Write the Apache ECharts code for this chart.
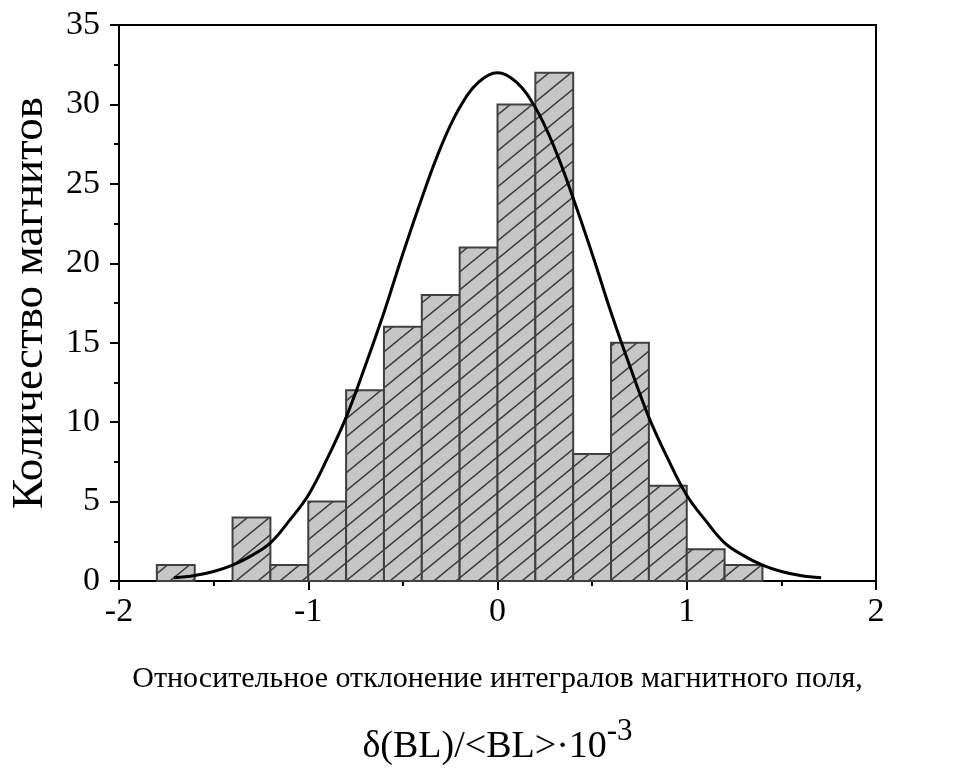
<!DOCTYPE html>
<html>
<head>
<meta charset="utf-8">
<script src="https://cdn.jsdelivr.net/npm/echarts@6/dist/echarts.min.js"></script>
<style>
    html, body { margin: 0; padding: 0; background: #fff; }
    #chart { width: 974px; height: 771px; }
</style>
</head>
<body>
<div id="chart"></div>
<script>
    // левые границы интервалов гистограммы (ширина 0.2)
    const binStart = [-1.8, -1.6, -1.4, -1.2, -1.0, -0.8, -0.6, -0.4, -0.2, 0.0, 0.2, 0.4, 0.6, 0.8, 1.0, 1.2];
    const binWidth = 0.2;
    const counts = [1, 0, 4, 1, 5, 12, 16, 18, 21, 30, 32, 8, 15, 6, 2, 1];

    // точки кривой (гауссова подгонка)
    const fitX = [-1.71, -1.6, -1.5, -1.4, -1.3, -1.2, -1.1, -1.0, -0.9, -0.8, -0.7, -0.6, -0.5, -0.4, -0.3, -0.2, -0.1,
        0.0, 0.1, 0.2, 0.3, 0.4, 0.5, 0.6, 0.7, 0.8, 0.9, 1.0, 1.1, 1.2, 1.3, 1.4, 1.5, 1.6, 1.71];
    const fitY = [0.2, 0.35, 0.6, 1.0, 1.6, 2.4, 3.8, 5.4, 7.7, 10.3, 13.5, 16.9, 20.6, 24.1, 27.3, 29.8, 31.4,
        32.0, 31.4, 29.8, 27.3, 24.1, 20.6, 16.9, 13.5, 10.3, 7.7, 5.4, 3.8, 2.4, 1.6, 1.0, 0.6, 0.35, 0.2];

    const xTicks = [-2, -1, 0, 1, 2];

    const font = 'Liberation Serif';

    // штриховка столбцов
    function hatchPattern() {
        const w = 22, h = 18;
        const c = document.createElement('canvas');
        c.width = w; c.height = h;
        const ctx = c.getContext('2d');
        ctx.fillStyle = '#c6c6c6';
        ctx.fillRect(0, 0, w, h);
        ctx.strokeStyle = '#3c3c3c';
        ctx.lineWidth = 1.5;
        ctx.beginPath();
        ctx.moveTo(-w, 2 * h); ctx.lineTo(2 * w, -h);
        ctx.moveTo(-2 * w, 2 * h); ctx.lineTo(w, -h);
        ctx.moveTo(0, 2 * h); ctx.lineTo(3 * w, -h);
        ctx.stroke();
        return c;
    }

    const barData = binStart
        .map((x0, i) => [x0, x0 + binWidth, counts[i]])
        .filter(d => d[2] > 0);

    const chart = echarts.init(document.getElementById('chart'));
    const pattern = { image: hatchPattern(), repeat: 'repeat' };

    const option = {
        animation: false,
        grid: {
            left: 119, right: 98, top: 25, bottom: 190,
            outerBoundsMode: 'none',
            containLabel: false,
            show: true, borderColor: '#000', borderWidth: 2, backgroundColor: 'transparent'
        },
        xAxis: {
            type: 'value',
            min: -2, max: 2, interval: 1,
            axisLine: { show: true, onZero: false, lineStyle: { color: '#000', width: 2 } },
            axisTick: { show: true, inside: false, length: 9, lineStyle: { color: '#000', width: 2 } },
            minorTick: { show: true, splitNumber: 2, length: 5, lineStyle: { color: '#000', width: 2 } },
            splitLine: { show: false },
            axisLabel: {
                margin: 14, color: '#000', fontFamily: font, fontSize: 34,
                formatter: v => xTicks.indexOf(v) >= 0 ? String(v) : ''
            },
            name: '{a|Относительное отклонение интегралов магнитного поля,}\n{b|δ(BL)/<BL>·10}{s|-3}',
            nameLocation: 'middle',
            nameGap: 69,
            nameTextStyle: {
                color: '#000', fontFamily: font,
                rich: {
                    a: { fontFamily: font, fontSize: 30, color: '#000', lineHeight: 58 },
                    b: { fontFamily: font, fontSize: 38, color: '#000', lineHeight: 58, verticalAlign: 'bottom' },
                    s: { fontFamily: font, fontSize: 31, color: '#000', lineHeight: 58, verticalAlign: 'bottom', padding: [0, 0, 19, 0] }
                }
            }
        },
        yAxis: {
            type: 'value',
            min: 0, max: 35, interval: 5,
            axisLine: { show: true, onZero: false, lineStyle: { color: '#000', width: 2 } },
            axisTick: { show: true, inside: false, length: 9, lineStyle: { color: '#000', width: 2 } },
            minorTick: { show: true, splitNumber: 2, length: 5, lineStyle: { color: '#000', width: 2 } },
            splitLine: { show: false },
            axisLabel: { margin: 19, color: '#000', fontFamily: font, fontSize: 34 },
            name: 'Количество магнитов',
            nameLocation: 'middle',
            nameGap: 66,
            nameRotate: 90,
            nameTextStyle: { color: '#000', fontFamily: font, fontSize: 45 }
        },
        series: [
            {
                type: 'custom',
                name: 'Гистограмма',
                data: barData,
                encode: { x: [0, 1], y: 2 },
                renderItem: function (params, api) {
                    const p0 = api.coord([api.value(0), api.value(2)]);
                    const p1 = api.coord([api.value(1), 0]);
                    return {
                        type: 'rect',
                        shape: { x: p0[0], y: p0[1], width: p1[0] - p0[0], height: p1[1] - p0[1] },
                        style: { fill: pattern, stroke: '#404040', lineWidth: 2 }
                    };
                },
                z: 2
            },
            {
                type: 'line',
                name: 'Подгонка',
                data: fitX.map((x, i) => [x, fitY[i]]),
                smooth: 0.4,
                showSymbol: false,
                lineStyle: { color: '#000', width: 3 },
                z: 3
            }
        ]
    };

    chart.setOption(option);
</script>
</body>
</html>
